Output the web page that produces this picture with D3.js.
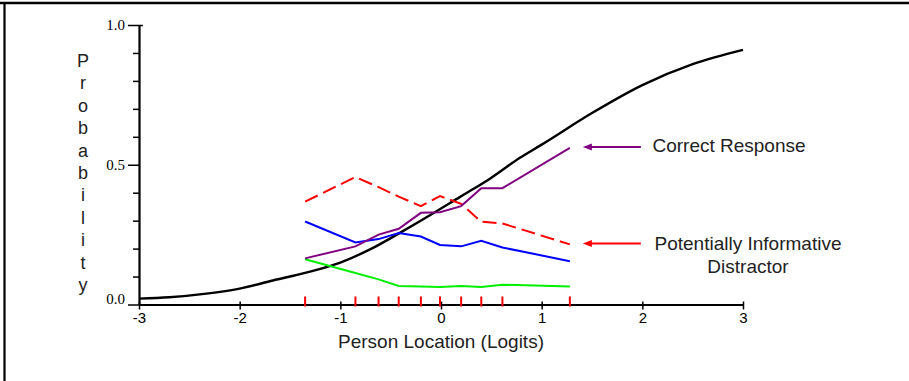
<!DOCTYPE html>
<html>
<head>
<meta charset="utf-8">
<script src="https://cdnjs.cloudflare.com/ajax/libs/d3/7.8.5/d3.min.js"></script>
<style>
	body { margin: 0; background: #fff; }
	svg { display: block; }
</style>
</head>
<body>
<div id="chart"></div>
<script>
// class interval means (red ticks on the axis)
var classMeans = [-1.35, -0.85, -0.62, -0.42, -0.20, -0.01, 0.20, 0.40, 0.61, 1.28];

// observed proportions per class interval
var correctObs    = [0.165, 0.208, 0.250, 0.271, 0.328, 0.330, 0.352, 0.416, 0.416, 0.560];
var distractorObs = [0.368, 0.456, 0.420, 0.386, 0.352, 0.388, 0.360, 0.296, 0.290, 0.215];
var otherObs      = [0.297, 0.222, 0.234, 0.256, 0.243, 0.213, 0.208, 0.228, 0.204, 0.155];
var otherObs2     = [0.162, 0.113, 0.090, 0.066, 0.064, 0.063, 0.066, 0.063, 0.071, 0.064];

// expected score curve
var iccX = [-3, -2.7, -2.33, -2, -1.67, -1.33, -1, -0.7, -0.4, -0.11, 0.19, 0.49, 0.78, 1.0, 1.5, 2.0, 2.5, 3.0];
var iccP = [0.021, 0.026, 0.039, 0.057, 0.086, 0.115, 0.150, 0.198, 0.258, 0.319, 0.385, 0.451, 0.524, 0.572, 0.685, 0.785, 0.860, 0.911];

var xTicks = [-3, -2, -1, 0, 1, 2, 3];
var yMajor = [0, 0.5, 1];
var yMinor = [0.1, 0.2, 0.3, 0.4, 0.6, 0.7, 0.8, 0.9];
var yLabel = 'Probability';
var xLabel = 'Person Location (Logits)';

var params = {};

function defineParams(){
	params.width = 909;
	params.height = 381;
	params.x0 = 139;
	params.x1 = 743;
	params.yTop = 25;
	params.yBottom = 304.5;
	params.sans = 'Arial, "Liberation Sans", sans-serif';
	params.serif = '"Times New Roman", "Liberation Serif", serif';
	params.purple = '#800080';
	params.red = '#ff0000';
	params.blue = '#0000ff';
	params.green = '#00ee00';
}

function createAxes(){
	params.xAxis = d3.scaleLinear().domain([-3, 3]).range([params.x0, params.x1]);
	params.yAxis = d3.scaleLinear().domain([0, 1]).range([params.yBottom, params.yTop]);

	// y axis, minor ticks
	params.svg.append('g')
		.attr('transform', 'translate(' + params.x0 + ',0)')
		.call(d3.axisLeft(params.yAxis).tickValues(yMinor).tickSize(6).tickFormat(''))
		.call(function(g){ g.select('.domain').remove(); })
		.selectAll('line').attr('stroke-width', 1.5);

	// y axis, major ticks + labels
	var yg = params.svg.append('g')
		.attr('transform', 'translate(' + params.x0 + ',0)')
		.call(d3.axisLeft(params.yAxis).tickValues(yMajor).tickSizeInner(11).tickSizeOuter(0).tickPadding(3).tickFormat(d3.format('.1f')))
		.attr('font-family', params.serif)
		.attr('font-size', 15);
	yg.select('.domain').attr('stroke-width', 2.2);
	yg.selectAll('line').attr('stroke-width', 1.5).attr('x2', function(d){ return d == 1 ? 4 : 0; }).attr('x1', -11);
	yg.selectAll('text')
		.attr('dy', function(d){ return d == 0 ? '-0.05em' : '0.32em'; });

	// x axis
	var xg = params.svg.append('g')
		.attr('transform', 'translate(0,' + params.yBottom + ')')
		.call(d3.axisBottom(params.xAxis).tickValues(xTicks).tickSizeInner(5).tickSizeOuter(0).tickPadding(3).tickFormat(d3.format('d')))
		.attr('font-family', params.sans)
		.attr('font-size', 15);
	xg.select('.domain').attr('stroke-width', 2.2);
	xg.selectAll('line').attr('y1', -3).attr('stroke-width', 1.5);
	xg.selectAll('text')
		.text(function(d){ return d < 0 ? '-' + Math.abs(d) : d; });

	// class interval markers
	params.svg.append('g').selectAll('line')
		.data(classMeans)
		.enter()
		.append('line')
			.attr('x1', function(d){ return params.xAxis(d); })
			.attr('x2', function(d){ return params.xAxis(d); })
			.attr('y1', params.yBottom - 8)
			.attr('y2', params.yBottom + 2)
			.attr('stroke', params.red)
			.attr('stroke-width', 2);

	// axis titles
	params.svg.append('text')
		.attr('x', (params.x0 + params.x1) / 2)
		.attr('y', 348)
		.attr('text-anchor', 'middle')
		.style('font-family', params.sans)
		.style('font-size', '19px')
		.style('fill', '#222')
		.text(xLabel);

	params.svg.append('g').selectAll('text')
		.data(yLabel.split(''))
		.enter()
		.append('text')
			.attr('x', 83)
			.attr('y', function(d, i){ return 67 + i * 22.4; })
			.attr('text-anchor', 'middle')
			.style('font-family', params.sans)
			.style('font-size', '18px')
			.style('fill', '#222')
			.text(function(d){ return d; });
}

function drawLines(){
	var obsLine = d3.line()
		.x(function(d, i){ return params.xAxis(classMeans[i]); })
		.y(function(d){ return params.yAxis(d); });

	params.svg.append('path')
		.datum(iccP)
		.attr('fill', 'none')
		.attr('stroke', '#000')
		.attr('stroke-width', 2.4)
		.attr('d', d3.line()
			.x(function(d, i){ return params.xAxis(iccX[i]); })
			.y(function(d){ return params.yAxis(d); })
			.curve(d3.curveMonotoneX));

	var series = [
		{values: otherObs2, color: params.green, dash: null},
		{values: otherObs, color: params.blue, dash: null},
		{values: distractorObs, color: params.red, dash: '14,6'},
		{values: correctObs, color: params.purple, dash: null}
	];
	params.svg.append('g').selectAll('path')
		.data(series)
		.enter()
		.append('path')
			.attr('fill', 'none')
			.attr('stroke', function(d){ return d.color; })
			.attr('stroke-width', 2)
			.attr('stroke-dasharray', function(d){ return d.dash; })
			.attr('d', function(d){ return obsLine(d.values); });
}

function drawArrow(values, color, lines, textX, textY){
	var last = values.length - 1;
	var tipX = params.xAxis(classMeans[last]) + 13;
	var tipY = params.yAxis(values[last]) - 1;
	params.svg.append('line')
		.attr('x1', tipX + 5).attr('x2', tipX + 58)
		.attr('y1', tipY).attr('y2', tipY)
		.attr('stroke', color).attr('stroke-width', 2);
	params.svg.append('path')
		.attr('d', 'M' + tipX + ',' + tipY + 'l9,-3.5l0,7z')
		.attr('fill', color);

	var t = params.svg.append('text')
		.attr('text-anchor', 'middle')
		.style('font-family', params.sans)
		.style('font-size', '19px')
		.style('fill', '#222');
	lines.forEach(function(s, i){
		t.append('tspan').attr('x', textX).attr('y', textY + i * 22.5).text(s);
	});
}

function init(){
	defineParams();

	params.svg = d3.select('#chart')
		.append('svg')
			.attr('width', params.width)
			.attr('height', params.height);

	// frame (top and left edges only)
	params.svg.append('line').attr('x1', 0).attr('x2', params.width).attr('y1', 3).attr('y2', 3)
		.attr('stroke', '#000').attr('stroke-width', 2.5);
	params.svg.append('line').attr('x1', 4.5).attr('x2', 4.5).attr('y1', 2).attr('y2', params.height)
		.attr('stroke', '#000').attr('stroke-width', 2.2);

	createAxes();
	drawLines();
	drawArrow(correctObs, params.purple, ['Correct Response'], 729, 152);
	drawArrow(distractorObs, params.red, ['Potentially Informative', 'Distractor'], 748, 250);
}

init();
</script>
</body>
</html>
